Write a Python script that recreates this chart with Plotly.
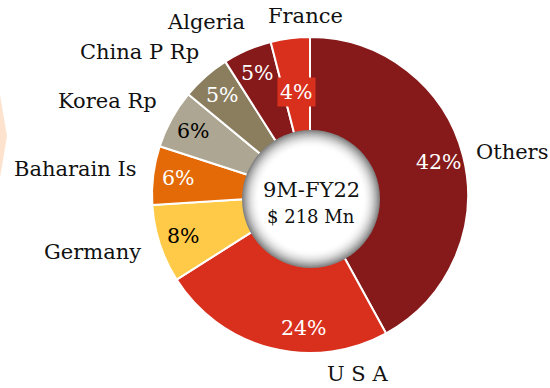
import math
import plotly.graph_objects as go

# Export share by destination, 9M-FY22
countries = ["Others", "U S A", "Germany", "Baharain Is", "Korea Rp",
             "China P Rp", "Algeria", "France"]
shares = [42, 24, 8, 6, 6, 5, 5, 4]
total_label = ["9M-FY22", "$ 218 Mn"]

slice_colors = ["#861A1B", "#D9301E", "#FECA47", "#E36A07", "#ADA692",
                "#8A7E5F", "#861A1B", "#D9301E"]
pct_font_colors = ["white", "white", "black", "white", "black",
                   "white", "white", "white"]

W, H = 550, 388
CX, CY, R = 310, 195, 158          # pie centre / radius in pixels (top-left origin)


def px(x):
    return x / W


def py(y):
    return 1 - y / H


fig = go.Figure(go.Pie(
    labels=countries,
    values=shares,
    sort=False,
    direction="clockwise",
    rotation=0,
    hole=0.40,
    textinfo="none",
    hoverinfo="label+percent",
    marker=dict(colors=slice_colors, line=dict(color="white", width=2)),
    domain=dict(x=[px(CX - R), px(CX + R)], y=[py(CY + R), py(CY - R)]),
    showlegend=False,
))

FONT = "DejaVu Serif"
annotations = []


def text_at(x, y, text, size, color="#111111", **extra):
    d = dict(x=px(x), y=py(y), xref="paper", yref="paper",
             xanchor="center", yanchor="middle",
             text=text, showarrow=False,
             font=dict(family=FONT, size=size, color=color))
    d.update(extra)
    annotations.append(d)


# percentage labels, placed at each slice's mid angle
label_radius = {i: 133 for i in range(len(shares))}
label_radius[7] = 104
angle_nudge = {1: -12}
tot = sum(shares)
cum = 0
for i, v in enumerate(shares):
    mid = (cum + v / 2) / tot * 360 + angle_nudge.get(i, 0)
    cum += v
    a = math.radians(mid)
    r = label_radius[i]
    x = CX + r * math.sin(a)
    y = CY - r * math.cos(a)
    extra = {}
    if i == 7:
        extra = dict(bgcolor=slice_colors[i], borderpad=2)
    text_at(x, y, f"{round(v / tot * 100)}%", 20.5, pct_font_colors[i], **extra)

# category names around the ring
name_pos = [(512, 152), (357, 374), (92, 252), (75, 169), (107, 101),
            (140, 52), (206, 22), (305, 16)]
for name, (x, y) in zip(countries, name_pos):
    text_at(x, y, name, 21)

# centre caption
text_at(311, 190, total_label[0], 21)
text_at(311, 216, total_label[1], 18)

shapes = []
# soft shaded disc in the hole
ccx, ccy, cr = 311, 199, 69
steps = 16
for k in range(steps + 1):
    t = k / steps
    r = cr - t * 17
    g = int(255 - 125 * (1 - t) ** 2)
    shapes.append(dict(type="circle", xref="paper", yref="paper",
                       x0=px(ccx - r), x1=px(ccx + r),
                       y0=py(ccy + r), y1=py(ccy - r),
                       fillcolor=f"rgb({g},{g},{g})", line=dict(width=0)))

# pale decorative edge on the left
shapes.append(dict(type="path", xref="paper", yref="paper",
                   path=f"M 0 {py(95)} L {px(7)} {py(136)} L 0 {py(178)} Z",
                   fillcolor="#FDE3CE", line=dict(width=0), layer="below"))

fig.update_layout(
    width=W, height=H,
    margin=dict(l=0, r=0, t=0, b=0),
    paper_bgcolor="white", plot_bgcolor="white",
    annotations=annotations,
    shapes=shapes,
)

fig.write_html("out.html")
